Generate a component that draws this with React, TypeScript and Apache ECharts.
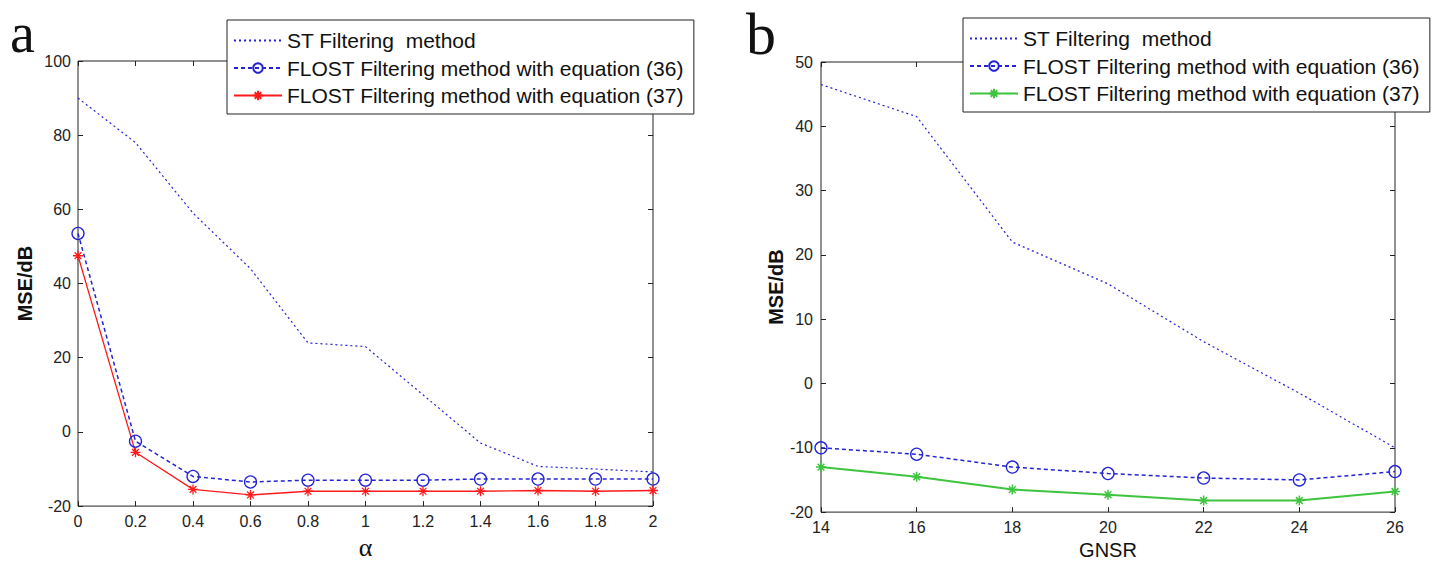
import React, { useEffect, useRef } from 'react';
import * as echarts from 'echarts';

// Panel a: MSE vs alpha
const alphaValues = [0, 0.2, 0.4, 0.6, 0.8, 1.0, 1.2, 1.4, 1.6, 1.8, 2.0];
const stA = [90, 78, 59, 44, 24, 23, 10, -3, -9.3, -10, -10.8];
const flost36A = [53.5, -2.5, -12, -13.5, -13, -13, -13, -12.7, -12.7, -12.7, -12.7];
const flost37A = [47.5, -5.5, -15.5, -17, -16, -16, -16, -16, -15.8, -16, -15.8];

// Panel b: MSE vs GNSR
const gnsrValues = [14, 16, 18, 20, 22, 24, 26];
const stB = [46.5, 41.5, 22, 15.5, 6.5, -1.5, -10];
const flost36B = [-10, -11, -13, -14, -14.7, -15, -13.7];
const flost37B = [-13, -14.5, -16.5, -17.3, -18.2, -18.2, -16.8];

const legendNames = [
  'ST Filtering  method',
  'FLOST Filtering method with equation (36)',
  'FLOST Filtering method with equation (37)',
];

const FONT = "'Liberation Sans', Arial, Helvetica, sans-serif";
const BLUE = '#2323d6';
const RED = '#ff1a1a';
const GREEN = '#3ec43e';
const STAR = 'path://M5 0 L5 10 M0 5 L10 5 M1.6 1.6 L8.4 8.4 M1.6 8.4 L8.4 1.6';

const pairs = (xs: number[], ys: number[]) => xs.map((x, i) => [x, ys[i]]);

function axisPair(grid: number, min: number, max: number, interval: number, isX: boolean, name: string, nameGap: number, nameStyle: any, labelMargin: number) {
  const common = {
    gridIndex: grid,
    type: 'value',
    min,
    max,
    interval,
    splitLine: { show: false },
    axisLine: { show: false, onZero: false },
    axisTick: { show: true, inside: true, length: 5, lineStyle: { color: '#222', width: 1 } },
  };
  return [
    {
      ...common,
      position: isX ? 'bottom' : 'left',
      name,
      nameLocation: 'middle',
      nameGap,
      nameTextStyle: nameStyle,
      axisLabel: { show: true, color: '#222', fontSize: 16, fontFamily: FONT, margin: labelMargin },
    },
    {
      ...common,
      position: isX ? 'top' : 'right',
      axisLabel: { show: false },
    },
  ];
}

export default function App() {
  const ref = useRef<HTMLDivElement>(null);
  useEffect(() => {
    if (!ref.current) return;
    const chart = echarts.init(ref.current, undefined, { renderer: 'svg' });
    const nameY = { fontSize: 20, fontWeight: 'bold', color: '#111', fontFamily: FONT };
    const xA = axisPair(0, 0, 2, 0.2, true, 'α', 22, { fontSize: 26, color: '#111', fontFamily: "'Liberation Serif', serif" }, 7);
    const yA = axisPair(0, -20, 100, 20, false, 'MSE/dB', 43, nameY, 7);
    const xB = axisPair(1, 14, 26, 2, true, 'GNSR', 24, { fontSize: 20, color: '#111', fontFamily: FONT }, 7);
    const yB = axisPair(1, -20, 50, 10, false, 'MSE/dB', 32, nameY, 8);

    const legendCommon = {
      orient: 'vertical',
      itemWidth: 48,
      itemHeight: 12,
      itemGap: 6.5,
      backgroundColor: '#fff',
      borderColor: '#222',
      borderWidth: 1,
      borderRadius: 0,
      padding: [10, 10, 8, 6],
      selectedMode: false,
      textStyle: { fontSize: 21, color: '#111', fontFamily: FONT },
    };
    const hiddenSym = { itemStyle: { color: 'rgba(0,0,0,0)', borderColor: 'rgba(0,0,0,0)', borderWidth: 0 } };

    chart.setOption({
      animation: false,
      backgroundColor: '#fff',
      grid: [
        { left: 78, top: 61, width: 575, height: 452, show: true, borderColor: '#222', borderWidth: 1, backgroundColor: 'transparent', containLabel: false },
        { left: 821, top: 62, width: 574, height: 451, show: true, borderColor: '#222', borderWidth: 1, backgroundColor: 'transparent', containLabel: false },
      ],
      xAxis: [...xA, ...xB],
      yAxis: [...yA, ...yB],
      legend: [
        {
          ...legendCommon,
          left: 227,
          top: 20,
          data: [{ name: legendNames[0], ...hiddenSym }, legendNames[1], legendNames[2]],
        },
        {
          ...legendCommon,
          left: 963,
          top: 18,
          data: [{ name: 'b:' + legendNames[0], ...hiddenSym }, 'b:' + legendNames[1], 'b:' + legendNames[2]],
          formatter: (n: string) => n.replace(/^b:/, ''),
        },
      ],
      graphic: [
        { type: 'text', left: 10, top: 5, style: { text: 'a', fontSize: 56, fontFamily: "'Liberation Serif', serif", fill: '#111' } },
        { type: 'text', left: 746, top: 4, style: { text: 'b', fontSize: 60, fontFamily: "'Liberation Serif', serif", fill: '#111' } },
      ],
      series: [
        {
          name: legendNames[0], type: 'line', xAxisIndex: 0, yAxisIndex: 0, data: pairs(alphaValues, stA),
          showSymbol: false, symbol: 'none', lineStyle: { color: BLUE, width: 1.2, type: [2, 3] }, itemStyle: { color: BLUE },
        },
        {
          name: legendNames[1], type: 'line', xAxisIndex: 0, yAxisIndex: 0, data: pairs(alphaValues, flost36A),
          symbol: 'circle', symbolSize: 12,
          lineStyle: { color: BLUE, width: 1.5, type: [4, 3] },
          itemStyle: { color: 'rgba(0,0,0,0)', borderColor: BLUE, borderWidth: 1.3 },
        },
        {
          name: legendNames[2], type: 'line', xAxisIndex: 0, yAxisIndex: 0, data: pairs(alphaValues, flost37A),
          symbol: STAR, symbolSize: 10,
          lineStyle: { color: RED, width: 1.3, type: 'solid' },
          itemStyle: { color: RED, borderColor: RED, borderWidth: 1.3 },
        },
        {
          name: 'b:' + legendNames[0], type: 'line', xAxisIndex: 2, yAxisIndex: 2, data: pairs(gnsrValues, stB),
          showSymbol: false, symbol: 'none', lineStyle: { color: BLUE, width: 1.2, type: [2, 3] }, itemStyle: { color: BLUE },
        },
        {
          name: 'b:' + legendNames[1], type: 'line', xAxisIndex: 2, yAxisIndex: 2, data: pairs(gnsrValues, flost36B),
          symbol: 'circle', symbolSize: 12,
          lineStyle: { color: BLUE, width: 1.5, type: [4, 3] },
          itemStyle: { color: 'rgba(0,0,0,0)', borderColor: BLUE, borderWidth: 1.3 },
        },
        {
          name: 'b:' + legendNames[2], type: 'line', xAxisIndex: 2, yAxisIndex: 2, data: pairs(gnsrValues, flost37B),
          symbol: STAR, symbolSize: 10,
          lineStyle: { color: GREEN, width: 2, type: 'solid' },
          itemStyle: { color: GREEN, borderColor: GREEN, borderWidth: 1.5 },
        },
      ],
    });
    return () => chart.dispose();
  }, []);
  return <div ref={ref} style={{ position: 'fixed', left: 0, top: 0, width: 1437, height: 565 }} />;
}
